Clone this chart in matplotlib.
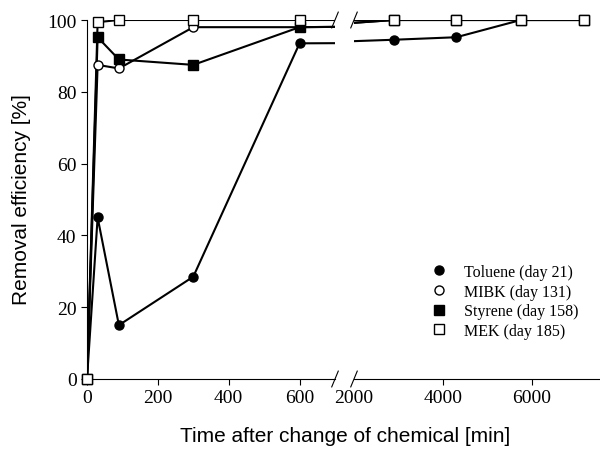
import matplotlib
matplotlib.use("Agg")
import matplotlib.pyplot as plt

# data
time_min = [0, 30, 90, 300, 600, 2900, 4300, 5750, 7170]
toluene = [0, 45, 15, 28.5, 93.5, 94.5, 95.2, 100, 100]
mibk = [0, 87.5, 86.5, 98, 98, 100, 100, 100, 100]
styrene = [0, 95.2, 89, 87.5, 98, 100, 100, 100, 100]
mek = [0, 99.4, 100, 100, 100, 100, 100, 100, 100]

series = [
    ("Toluene (day 21)", toluene, "o", "black"),
    ("MIBK (day 131)", mibk, "o", "white"),
    ("Styrene (day 158)", styrene, "s", "black"),
    ("MEK (day 185)", mek, "s", "white"),
]

yticks = [0, 20, 40, 60, 80, 100]
left_xticks = [0, 200, 400, 600]
right_xticks = [2000, 4000, 6000]
left_range = (0, 700)
right_range = (2000, 7530)

serif = "Liberation Serif"
sans = "Liberation Sans"

fig = plt.figure(figsize=(6.0, 4.52), dpi=100)
ax1 = fig.add_axes([87 / 600, 72 / 452, 248 / 600, 359 / 452])
ax2 = fig.add_axes([354 / 600, 72 / 452, 246 / 600, 359 / 452])

handles = []
for ax, (lo, hi) in ((ax1, left_range), (ax2, right_range)):
    for label, vals, mk, fc in series:
        # full line, clipped at the panel edges
        ax.plot(time_min, vals, color="black", lw=1.5, zorder=3)
        # markers only for the points inside this panel, never cut at the edges
        xs = [t for t in time_min if lo <= t <= hi]
        ys = [v for t, v in zip(time_min, vals) if lo <= t <= hi]
        h, = ax.plot(xs, ys, ls="none", marker=mk, mfc=fc, mec="black",
                     mew=1.0, ms=6.5, clip_on=False, zorder=4, label=label)
        if ax is ax1:
            handles.append(h)
    ax.set_xlim(lo, hi)
    ax.set_ylim(0, 100)
    ax.spines["top"].set_visible(False)
    ax.spines["right"].set_visible(False)
    ax.tick_params(direction="out", length=4, width=0.8, labelsize=14)

ax1.set_xticks(left_xticks)
ax1.set_xticklabels([str(v) for v in left_xticks], fontfamily=serif, fontsize=14)
ax1.set_yticks(yticks)
ax1.set_yticklabels([str(v) for v in yticks], fontfamily=serif, fontsize=14)

ax2.set_xticks(right_xticks)
ax2.set_xticklabels([str(v) for v in right_xticks], fontfamily=serif, fontsize=14)
ax2.spines["left"].set_visible(False)
ax2.tick_params(axis="y", left=False, labelleft=False)
ax2.xaxis.get_major_ticks()[0].tick1line.set_visible(False)

# break marks
d = 0.022
kw = dict(color="black", lw=0.8, clip_on=False)
for y in (0, 1):
    ax1.plot([1 - d * 0.6, 1 + d * 0.6], [y - d, y + d], transform=ax1.transAxes, **kw)
    ax2.plot([-d * 0.6, d * 0.6], [y - d, y + d], transform=ax2.transAxes, **kw)

leg = ax2.legend(handles, [s[0] for s in series], loc="lower left",
                 bbox_to_anchor=(0.3, 0.094), frameon=False, handlelength=0.6,
                 handletextpad=1.25, labelspacing=0.23, borderaxespad=0,
                 prop={"family": serif, "size": 11.5})

fig.text(22 / 600, 1 - 200 / 452, "Removal efficiency [%]", rotation=90,
         ha="center", va="center", fontfamily=sans, fontsize=15)
fig.text(345 / 600, 1 - 437 / 452, "Time after change of chemical [min]",
         ha="center", va="center", fontfamily=sans, fontsize=15)

fig.savefig("out.png", dpi=100)
